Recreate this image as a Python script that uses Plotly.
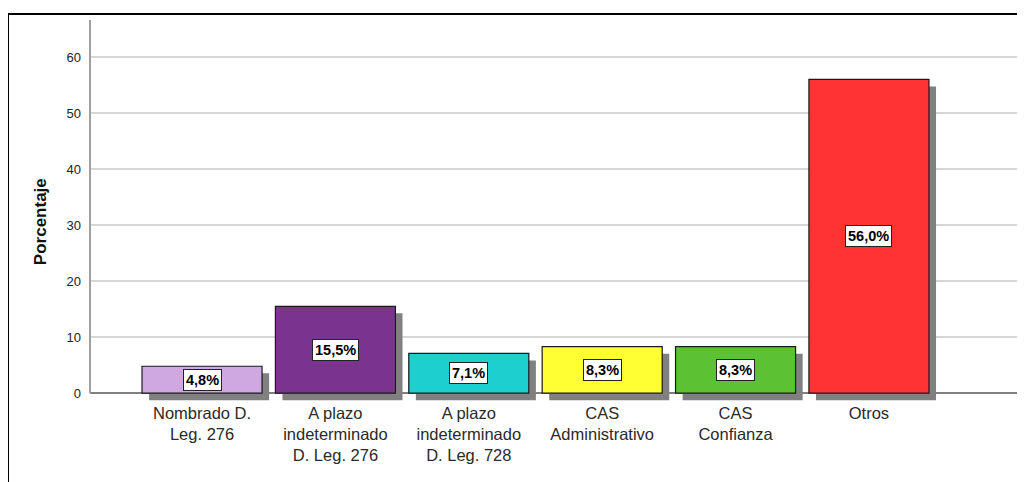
import plotly.graph_objects as go

# Data
categories = ["Nombrado D.<br>Leg. 276", "A plazo<br>indeterminado<br>D. Leg. 276",
              "A plazo<br>indeterminado<br>D. Leg. 728", "CAS<br>Administrativo",
              "CAS<br>Confianza", "Otros"]
percentages = [4.8, 15.5, 7.1, 8.3, 8.3, 56.0]
value_labels = ["4,8%", "15,5%", "7,1%", "8,3%", "8,3%", "56,0%"]
bar_colors = ["#CFA8E1", "#7A348F", "#1ECFCF", "#FFFF33", "#5CC233", "#FF3333"]

xpos = list(range(len(categories)))

# drop shadow offsets (about 7px right / 7px down)
shadow_dx = 0.053
shadow_dy = 1.25
bar_w = 0.9

fig = go.Figure()

# gray shadow under each bar
fig.add_trace(go.Bar(
    x=xpos, y=percentages, base=[-shadow_dy] * len(percentages),
    width=bar_w, offset=-bar_w / 2 + shadow_dx,
    marker=dict(color="#808080", line=dict(width=0)),
    hoverinfo="skip", showlegend=False
))

# main bars
fig.add_trace(go.Bar(
    x=xpos, y=percentages,
    width=bar_w, offset=-bar_w / 2,
    marker=dict(color=bar_colors, line=dict(color="#1a1a1a", width=1.2)),
    showlegend=False
))

# boxed value labels in the middle of each bar
for xi, val, lab in zip(xpos, percentages, value_labels):
    fig.add_annotation(
        x=xi, y=val / 2, text=f"<b>{lab}</b>", showarrow=False,
        font=dict(family="Liberation Sans, Arial", size=14.5, color="#000000"),
        bgcolor="#FFFFFF", bordercolor="#222222", borderwidth=1, borderpad=2
    )

# y axis title placed as annotation (sits a bit below the plot centre)
fig.add_annotation(
    xref="paper", yref="paper", x=-0.0535, y=0.472, text="<b>Porcentaje</b>",
    xanchor="center", yanchor="middle",
    textangle=-90, showarrow=False,
    font=dict(family="Liberation Sans, Arial", size=17, color="#111111")
)

y_top = 66.6
fig.update_layout(
    width=1025, height=482,
    margin=dict(l=82, r=8, t=12, b=89),
    paper_bgcolor="white", plot_bgcolor="white",
    barmode="overlay",
    font=dict(family="Liberation Sans, Arial", color="#222222"),
    xaxis=dict(
        range=[-0.84, 6.17], tickmode="array", tickvals=xpos, ticktext=categories,
        showgrid=False, showline=False, zeroline=False, ticks="",
        tickfont=dict(size=16.5, color="#2a2a2a")
    ),
    yaxis=dict(
        range=[-1.4, y_top], tickmode="linear", tick0=0, dtick=10,
        showgrid=True, gridcolor="#D6D6D6", gridwidth=2,
        zeroline=True, zerolinecolor="#808080", zerolinewidth=1.5,
        showline=False, ticks="", ticklabelstandoff=8,
        tickfont=dict(size=13, color="#222222")
    ),
    shapes=[
        # y axis line from 0 to the top
        dict(type="line", xref="paper", yref="y", x0=0, x1=0, y0=0, y1=y_top,
             line=dict(color="#A0A0A0", width=2)),
        # black frame (top and left edges)
        dict(type="line", xref="paper", yref="paper", x0=-0.0877, x1=1.1, y0=1.0157, y1=1.0157,
             line=dict(color="#000000", width=2)),
        dict(type="line", xref="paper", yref="paper", x0=-0.0877, x1=-0.0877, y0=1.0157, y1=-0.4,
             line=dict(color="#000000", width=2)),
    ]
)

fig.write_html("out.html")
